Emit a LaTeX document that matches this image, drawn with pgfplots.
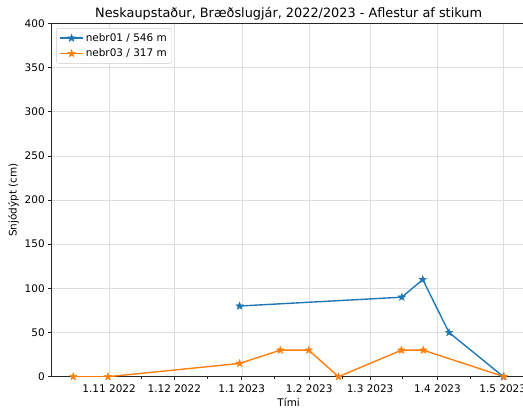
\documentclass[border=0pt]{standalone}
\usepackage{pgfplots}
\pgfplotsset{compat=1.18}
\usepackage{fontspec}
\setmainfont{DejaVu Sans}

\definecolor{tabblue}{HTML}{1F77B4}
\definecolor{taborange}{HTML}{FF7F0E}

% filled five-point star, like matplotlib's '*' marker
\pgfdeclareplotmark{mstar}{%
  \pgfpathmoveto{\pgfpointpolar{90}{\pgfplotmarksize}}%
  \pgfpathlineto{\pgfpointpolar{126}{0.40\pgfplotmarksize}}%
  \pgfpathlineto{\pgfpointpolar{162}{\pgfplotmarksize}}%
  \pgfpathlineto{\pgfpointpolar{198}{0.40\pgfplotmarksize}}%
  \pgfpathlineto{\pgfpointpolar{234}{\pgfplotmarksize}}%
  \pgfpathlineto{\pgfpointpolar{270}{0.40\pgfplotmarksize}}%
  \pgfpathlineto{\pgfpointpolar{306}{\pgfplotmarksize}}%
  \pgfpathlineto{\pgfpointpolar{342}{0.40\pgfplotmarksize}}%
  \pgfpathlineto{\pgfpointpolar{18}{\pgfplotmarksize}}%
  \pgfpathlineto{\pgfpointpolar{54}{0.40\pgfplotmarksize}}%
  \pgfpathclose
  \pgfusepathqfillstroke
}

% x = days since 1 Nov 2022
\pgfplotstableread{
x y
60 80
134.6 90
144.2 110
156.3 50
181.3 0
}\nebrA

\pgfplotstableread{
x y
-16.5 0
-0.5 0
60 15
78.7 30
91.8 30
105.5 0
134.4 30
144.5 30
181.6 0
}\nebrB

\begin{document}
\begin{tikzpicture}
\useasboundingbox (-51.7bp,-36.3bp) rectangle (471.3bp,376.7bp);
\begin{axis}[
    scale only axis,
    width=473.9bp, height=353.4bp,
    xmin=-26.4, xmax=191.5,
    ymin=0, ymax=400,
    axis y line*=left,
    tick pos=left,
    tick align=outside,
    major tick length=3.5bp,
    minor tick length=2bp,
    xtick={0,30,61,92,120,151,181},
    xticklabels={1.11 2022,1.12 2022,1.1 2023,1.2 2023,1.3 2023,1.4 2023,1.5 2023},
    minor xtick={-16,15,45,76,107,135,166},
    ytick={0,50,...,400},
    grid=major,
    major grid style={black!13, line width=0.5pt},
    axis line style={black!85, line width=0.6pt},
    every tick/.style={black!85, line width=0.6pt},
    tick label style={font=\fontsize{10.5}{12}\selectfont},
    /pgf/number format/assume math mode=true,
    xticklabel style={yshift=-1bp},
    title={Neskaupstaður, Bræðslugjár, 2022/2023 - Aflestur af stikum},
    title style={font=\fontsize{12.9}{14}\selectfont, yshift=-6bp},
    xlabel={Tími},
    ylabel={Snjódýpt (cm)},
    label style={font=\fontsize{10.5}{12}\selectfont},
    xlabel style={yshift=1bp},
    ylabel style={yshift=-1bp},
    legend style={at={(0.0095,0.986)}, anchor=north west,
        draw=black!20, rounded corners=2pt,
        font=\fontsize{10.5}{12}\selectfont,
        row sep=2bp, inner xsep=3bp, inner ysep=3bp},
    legend cell align=left,
    legend image code/.code={%
        \draw[mark repeat=2, mark phase=2]
        plot coordinates {(0bp,0bp) (11.5bp,0bp) (23bp,0bp)};},
    mark size=4bp,
]
\addplot[tabblue, line width=1.4pt, mark=mstar,
    mark options={solid, fill=tabblue, line width=0.4pt}] table[x=x,y=y] {\nebrA};
\addlegendentry{nebr01 / 546 m}
\addplot[taborange, line width=1.4pt, mark=mstar,
    mark options={solid, fill=taborange, line width=0.4pt}] table[x=x,y=y] {\nebrB};
\addlegendentry{nebr03 / 317 m}
\end{axis}
\end{tikzpicture}
\end{document}
